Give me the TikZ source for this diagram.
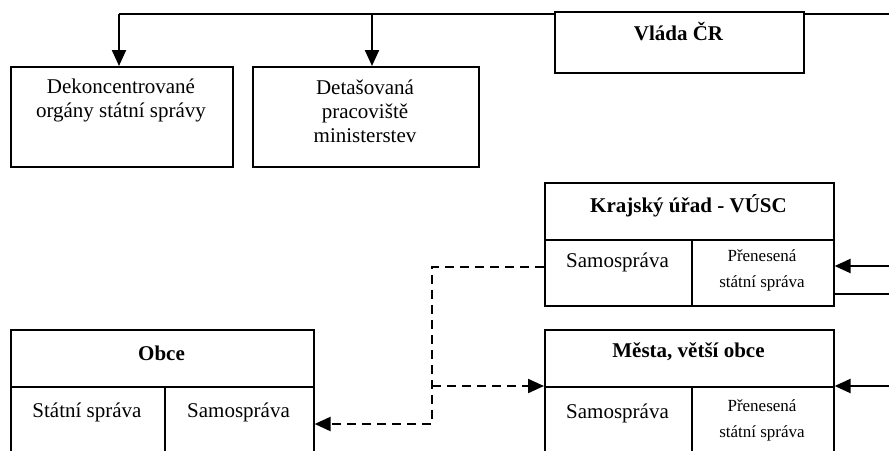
\documentclass[tikz,border=0pt]{standalone}
\usepackage{fontspec}
\setmainfont{Liberation Serif}
\usetikzlibrary{arrows.meta,positioning}

\begin{document}
\begin{tikzpicture}[
    x=1pt, y=-1pt,
    cell/.style={draw, line width=1.6pt, fill=white, anchor=north west, inner sep=0pt},
    lbl/.style={inner sep=0pt, align=center, font=\fontsize{21}{24}\selectfont},
    head/.style={lbl, font=\fontsize{21}{24}\selectfont\bfseries},
    small/.style={inner sep=0pt, align=center, font=\fontsize{17}{25.5}\selectfont},
    conn/.style={line width=2.2pt},
    arr/.style={conn, -{Triangle[length=16pt, width=14pt]}},
    dasharr/.style={line width=2.2pt, dash pattern=on 9pt off 6pt, -{Triangle[length=16pt, width=14pt]}}
]
\useasboundingbox (0,0) rectangle (889,450);
\clip (0,0) rectangle (889,450);

%% ---- TOP: government and central bodies ----
\node[cell, minimum width=222pt, minimum height=100pt] (deko)  at (10, 66)  {};
\node[cell, minimum width=226pt, minimum height=100pt] (deta)  at (252, 66) {};
\node[lbl] (deko-t) at (121, 100)   {Dekoncentrované\\orgány státní správy};
\node[lbl] (deta-t) at (365, 111.5) {Detašovaná\\pracoviště\\ministerstev};

%% ---- top line from the government ----
\coordinate (topR) at (889, 14);
\coordinate (topL) at (119, 14);
\coordinate (topM) at (372, 14);
\draw[conn] (topR) -- (topL);
\draw[arr] (topL) -- (deko.north -| topL);
\draw[arr] (topM) -- (deta.north -| topM);

\node[cell, minimum width=249pt, minimum height=61pt] (vlada) at (554, 11) {};
\node[head] (vlada-t) at (678.5, 32) {Vláda ČR};

%% ---- REGION ----
\node[cell, minimum width=289pt, minimum height=57pt] (kraj)   at (544, 182) {};
\node[cell, minimum width=147pt, minimum height=66pt] (kraj-s) at (544, 239) {};
\node[cell, minimum width=142pt, minimum height=66pt] (kraj-p) at (691, 239) {};
\node[head]  (kraj-t)  at (688.5, 206) {Krajský úřad - VÚSC};
\node[lbl]   (kraj-st) at (617.5, 262) {Samospráva};
\node[small] (kraj-pt) at (762, 270.5) {Přenesená\\státní správa};

%% ---- MUNICIPALITIES ----
\node[cell, minimum width=303pt, minimum height=57pt] (obce)    at (10, 329)  {};
\node[cell, minimum width=154pt, minimum height=84pt] (obce-st) at (10, 386)  {};
\node[cell, minimum width=149pt, minimum height=84pt] (obce-s)  at (164, 386) {};
\node[head] (obce-t)   at (161.5, 353) {Obce};
\node[lbl]  (obce-stt) at (87, 412)    {Státní správa};
\node[lbl]  (obce-sst) at (238.5, 412) {Samospráva};

\node[cell, minimum width=289pt, minimum height=57pt] (mesta)   at (544, 329) {};
\node[cell, minimum width=147pt, minimum height=84pt] (mesta-s) at (544, 386) {};
\node[cell, minimum width=142pt, minimum height=84pt] (mesta-p) at (691, 386) {};
\node[head]  (mesta-t)  at (688.5, 352) {Města, větší obce};
\node[lbl]   (mesta-st) at (617.5, 413) {Samospráva};
\node[small] (mesta-pt) at (762, 420.5) {Přenesená\\státní správa};

%% ---- ARROWS from the right ----
\coordinate (inK)  at (889, 266);
\coordinate (outK) at (889, 294);
\coordinate (inM)  at (889, 386);
\draw[arr]  (inK) -- (inK -| kraj-p.east);
\draw[conn] (outK -| kraj-p.east) -- (outK);
\draw[arr]  (inM) -- (inM -| mesta-p.east);

%% ---- dashed links ----
\coordinate (dj) at (432, 424);
\draw[dasharr] ([yshift=6pt]kraj-s.west) -| (dj) -- (dj -| obce-s.east);
\draw[dasharr] (dj |- mesta-s.north west) -- (mesta-s.north west);

\end{tikzpicture}
\end{document}
